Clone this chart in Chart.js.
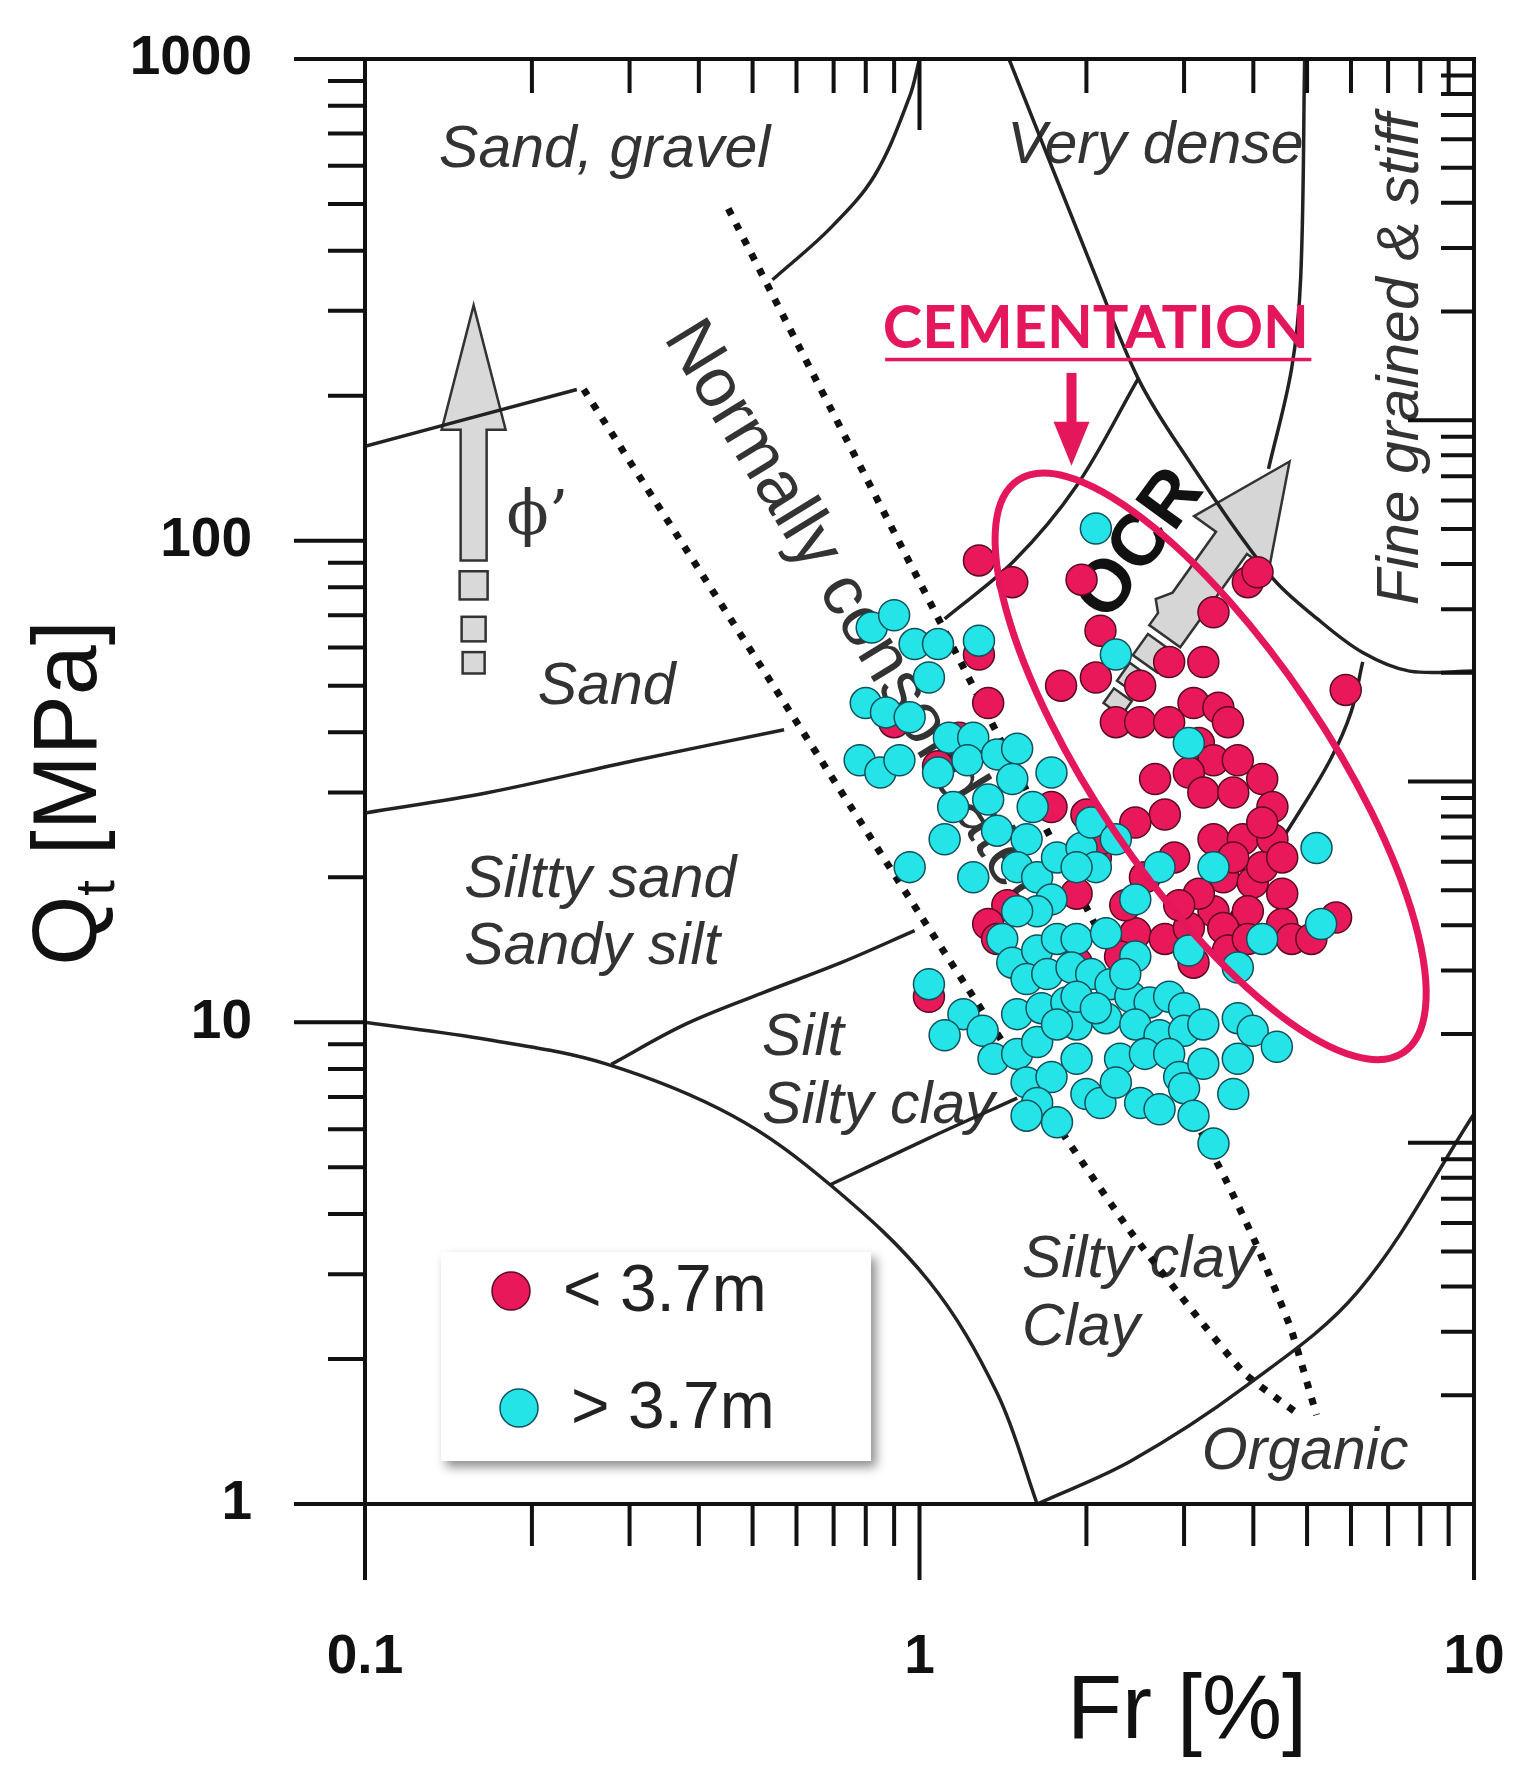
<!DOCTYPE html>
<html><head><meta charset="utf-8">
<script src="https://cdn.jsdelivr.net/npm/chart.js@4.4.1/dist/chart.umd.min.js"></script>
<style>html,body{margin:0;padding:0;background:#fff}#wrap{width:1535px;height:1776px;position:relative}</style>
</head><body><div id="wrap"><canvas id="c" width="1535" height="1776"></canvas></div>
<script>
// ---------- data ----------
const xTickValues = [0.1, 1, 10];
const xTickLabels = ['0.1', '1', '10'];
const yTickValues = [1, 10, 100, 1000];
const yTickLabels = ['1', '10', '100', '1000'];

const redFr = [1.28,1.47,1.96,2.12,1.80,2.08,2.50,2.82,3.25,3.39,3.91,4.07,5.87,1.33,1.18,2.26,2.50,2.82,3.12,3.46,3.60,3.19,3.39,3.75,3.06,3.25,3.68,4.15,4.33,2.66,2.77,2.45,3.39,3.83,4.33,3.53,3.99,4.51,3.39,3.91,4.51,4.69,5.64,2.08,2.12,1.92,1.44,1.33,1.38,2.45,2.77,3.06,3.53,3.60,3.91,1.04,0.90,1.08,1.73,2.00,3.19,4.15,5.09,2.55,2.35,1.28,4.15,2.88,3.68,4.51,2.94,1.92,2.30,3.12];
const redQt = [91,82,83,65,50,52,50,56,56,71,82,86,49,46,39,42,42,42,46,45,42,38,35,35,33,30,30,32,28,32,27,26,24,24,24,20,19.5,18.5,17,17,16,14.9,16.5,22,24,18.5,17.5,16,14.9,15.3,14.9,15.7,15.7,14.1,14.9,11.3,42,34,28,27,18.5,21,14.9,20,17.5,58,26,22,22,22,17.5,13.3,13.7,13.3];

const cyanFr = [2.08,2.26,3.06,0.82,0.90,0.98,1.08,1.28,1.04,0.80,0.87,0.96,1.13,1.25,0.78,0.85,0.92,1.08,1.22,1.38,1.50,1.15,1.33,1.47,1.60,1.73,1.38,1.56,0.96,1.11,1.25,1.50,1.63,1.77,1.96,2.04,2.26,2.08,1.73,1.92,1.63,1.50,1.41,1.47,1.63,1.77,1.92,2.17,2.45,2.71,3.39,3.75,4.15,5.30,5.20,3.06,2.45,1.56,1.70,1.88,2.04,2.21,2.40,2.60,2.82,3.00,1.04,1.20,1.11,1.30,1.50,1.66,1.84,1.92,2.17,2.45,2.71,3.00,3.25,3.75,3.99,4.41,3.75,1.36,1.50,1.56,1.73,1.92,2.00,2.30,2.55,2.82,2.94,3.25,1.63,1.56,1.77,2.12,2.50,2.71,3.00,3.68,3.12,3.39,1.92,2.08,2.35,1.63,1.77,2.26];
const cyanQt = [106,58,38,66,70,61,61,62,52,46,44,43,39,39,35,33,35,33,35,36,37,28,29,32,28,33,25,24,21,24,20,21,20,22,23,26,24,21,18,21,17,17,14.9,13.3,14.1,14.9,14.9,15.3,18,21,21,13,14.9,16,23,14.1,13.7,12.3,12.6,13,12.6,12,11.3,11,11.3,10.7,12,10.4,9.4,9.6,10.4,10.7,11,9.9,10.2,9.9,9.4,9.6,9.9,10.2,9.6,8.9,8.4,8.4,8.6,7.5,7.7,8.4,7.1,8.4,8.6,8.6,7.7,8.2,6.8,6.4,6.2,6.8,6.8,6.6,7.3,7.1,6.4,5.6,11.3,10.7,12.6,9.1,9.9,7.5];

// boundary curves [Fr, Qt]
const curveSandGravel = [[0.1,157],[0.241,206]];
const curveDenseLeft = [[0.543,348],[0.69,445],[0.83,573],[0.96,836],[1.0,1000]];
const curveSandTop = [[0.1,27.2],[0.167,30],[0.308,35],[0.57,40.5]];
const curveSiltTop = [[0.278,8.18],[0.377,9.89],[0.52,11.5],[0.722,13.3],[0.98,15.5]];
const curveClayArc = [[0.1,10],[0.167,9.2],[0.272,8.2],[0.46,6.4],[0.69,4.6],[1.04,2.9],[1.38,1.7],[1.63,1]];
const curveSiltLow = [[0.69,4.6],[1.04,5.75],[1.5,6.96]];
const curveOrganic = [[1.63,1],[2.41,1.23],[3.86,1.75],[6.19,2.77],[10,6.45]];
const curveVeryDense = [[1.45,1000],[2.08,353],[2.48,217],[2.94,157],[4.3,84.5],[5.22,68.8],[6.31,58.5],[7.65,53.6],[10,53.6]];
const curveCement = [[1.11,68.8],[1.48,90.7],[1.92,130],[2.48,217]];
const curveFineTop = [[4.95,1000],[4.87,353],[4.69,228],[4.26,141]];
const curveFineLow = [[6.3,56],[6.0,44],[5.5,35],[4.75,26.4],[3.97,19.2],[3.4,15]];
const dottedLow = [[0.248,206],[1.0,16.8],[1.75,6.24],[2.43,3.61],[3.83,1.88],[4.85,1.53]];
const dottedHigh = [[0.452,489],[3.56,4.73],[4.04,3.48],[4.67,2.32],[5.20,1.53]];

const seriesNames = ['< 3.7m', '> 3.7m'];

// ---------- styling ----------
const RED = '#e8185a', CYAN = '#24e4e8', MAG = '#e5175c';
const FONT = "'Liberation Sans', Arial, sans-serif";
const toPts = a => a.map(p => ({x:p[0], y:p[1]}));
const zip = (xs, ys) => xs.map((x,i) => ({x, y: ys[i]}));

function curveDs(arr, dotted){
  return {type:'scatter', data: toPts(arr), showLine:true, pointRadius:0, pointHoverRadius:0,
    borderColor: dotted ? '#111' : '#222', borderWidth: dotted ? 7 : 3.5,
    borderDash: dotted ? [7,10] : [], tension: dotted ? 0.15 : 0.35, fill:false, order:10};
}

const region = [
  {t:'Sand, gravel', x:0.136, y:598},
  {t:'Very dense', x:1.44, y:608},
  {t:'Sand', x:0.205, y:45.8},
  {t:'Siltty sand', x:0.151, y:18.2},
  {t:'Sandy silt', x:0.151, y:13.2},
  {t:'Silt', x:0.52, y:8.55},
  {t:'Silty clay', x:0.52, y:6.18},
  {t:'Silty clay', x:1.53, y:2.96},
  {t:'Clay', x:1.53, y:2.14},
  {t:'Organic', x:3.23, y:1.18},
];

const overlay = {
  id:'overlay',
  beforeDatasetsDraw(chart){
    const {ctx, scales:{x, y}} = chart;
    const P = (a,b) => [x.getPixelForValue(a), y.getPixelForValue(b)];
    ctx.save();
    ctx.fillStyle = '#333';
    ctx.textBaseline = 'alphabetic';
    ctx.font = `italic 59px ${FONT}`;
    region.forEach(r => { const [px,py] = P(r.x, r.y); ctx.fillText(r.t, px, py); });
    let [fx, fy] = P(6.77, 238);
    ctx.save(); ctx.translate(fx+22, fy); ctx.rotate(-Math.PI/2);
    ctx.textAlign='center'; ctx.textBaseline='middle'; ctx.fillText('Fine grained & stiff', 0, 0); ctx.restore();
    let [nx, ny] = P(0.369, 277);
    ctx.save(); ctx.translate(nx, ny); ctx.rotate(58.5*Math.PI/180);
    ctx.font = `70px ${FONT}`; ctx.textBaseline='middle'; ctx.fillText('Normally consolidated', 0, 0); ctx.restore();
    // phi arrow
    const [ax, atip] = P(0.157, 308);
    const [, abase] = P(0.157, 170);
    const [, abot] = P(0.157, 91);
    ctx.fillStyle = '#d9d9d9'; ctx.strokeStyle = '#333'; ctx.lineWidth = 2.5;
    ctx.beginPath();
    ctx.moveTo(ax, atip); ctx.lineTo(ax+32, abase); ctx.lineTo(ax+13, abase); ctx.lineTo(ax+13, abot);
    ctx.lineTo(ax-13, abot); ctx.lineTo(ax-13, abase); ctx.lineTo(ax-32, abase); ctx.closePath();
    ctx.fill(); ctx.stroke();
    [[86.4,75.5,28],[69.5,61.8,24],[58.7,53,22]].forEach(([t,b,w]) => {
      const yt = y.getPixelForValue(t), yb = y.getPixelForValue(b);
      ctx.fillRect(ax-w/2, yt, w, yb-yt); ctx.strokeRect(ax-w/2, yt, w, yb-yt);
    });
    ctx.fillStyle = '#333';
    ctx.font = `62px 'DejaVu Serif', serif`;
    let [phx, phy] = P(0.18, 103);
    ctx.fillText('\u03d5\u2019', phx, phy);
    // OCR arrow
    const [tx0, ty0] = P(1.96, 36.3), [tx1, ty1] = P(4.65, 146);
    const L = Math.hypot(tx1-tx0, ty1-ty0), ang = Math.atan2(ty1-ty0, tx1-tx0);
    ctx.save(); ctx.translate(tx0, ty0); ctx.rotate(ang);
    ctx.fillStyle = '#d6d6d6'; ctx.strokeStyle='#333'; ctx.lineWidth=2.5;
    const hl = 100, sw = 19, hw = 46, s0 = L*0.40;
    ctx.beginPath();
    ctx.moveTo(L,0); ctx.lineTo(L-hl, -hw); ctx.lineTo(L-hl, -sw); ctx.lineTo(s0+40, -sw);
    ctx.lineTo(s0+25, -sw-10); ctx.lineTo(s0+15, -sw); ctx.lineTo(s0, -sw); ctx.lineTo(s0, sw);
    ctx.lineTo(L-hl, sw); ctx.lineTo(L-hl, hw); ctx.closePath(); ctx.fill(); ctx.stroke();
    [[s0-34,26,15],[s0-64,22,13],[s0-90,18,11]].forEach(([p,w,h]) => {
      ctx.fillRect(p, -h, w, 2*h); ctx.strokeRect(p, -h, w, 2*h);
    });
    ctx.restore();
    let [ox, oy] = P(2.5, 98);
    ctx.save(); ctx.translate(ox, oy); ctx.rotate(-54*Math.PI/180);
    ctx.fillStyle='#111'; ctx.font = `bold 74px ${FONT}`; ctx.textAlign='center'; ctx.textBaseline='middle';
    ctx.fillText('OCR', 0, 0); ctx.restore();
    ctx.restore();
  },
  afterDatasetsDraw(chart){
    const {ctx, chartArea:ca, scales:{x, y}} = chart;
    const P = (a,b) => [x.getPixelForValue(a), y.getPixelForValue(b)];
    ctx.save();
    const [ex, ey] = P(3.35, 34);
    ctx.strokeStyle = MAG; ctx.lineWidth = 7;
    ctx.beginPath(); ctx.ellipse(ex, ey, 345, 116, 56*Math.PI/180, 0, 2*Math.PI); ctx.stroke();
    const [cx, cy] = P(2.08, 251);
    ctx.fillStyle = MAG; ctx.font = `bold 60px Lato, ${FONT}`;
    const w = ctx.measureText('CEMENTATION').width, target = 426;
    ctx.save(); ctx.translate(cx, cy); ctx.scale(target/w, 1); ctx.textAlign='center'; ctx.fillText('CEMENTATION', 0, 0); ctx.restore();
    const [ul0, uly] = P(0.867, 238), [ul1] = P(5.09, 238);
    ctx.fillRect(ul0, uly-1.5, ul1-ul0, 3.5);
    const [arx, ar0] = P(1.88, 223), [, ar1] = P(1.88, 143);
    ctx.fillRect(arx-5, ar0, 10, ar1-ar0-40);
    ctx.beginPath(); ctx.moveTo(arx-18, ar1-44); ctx.lineTo(arx+18, ar1-44); ctx.lineTo(arx, ar1); ctx.closePath(); ctx.fill();
    ctx.save();
    ctx.shadowColor='rgba(0,0,0,0.45)'; ctx.shadowBlur=10; ctx.shadowOffsetX=5; ctx.shadowOffsetY=6;
    ctx.fillStyle='#fff'; ctx.fillRect(441, 1252, 430, 209); ctx.restore();
    const leg = [[RED,'#5a0a22',511,1291,seriesNames[0],563],[CYAN,'#12505a',519,1408,seriesNames[1],571]];
    leg.forEach(([f,s,lx,ly,t,tx]) => {
      ctx.beginPath(); ctx.arc(lx, ly, 19, 0, 2*Math.PI); ctx.fillStyle=f; ctx.fill();
      ctx.lineWidth=1.5; ctx.strokeStyle=s; ctx.stroke();
      ctx.fillStyle='#222'; ctx.font=`66px ${FONT}`; ctx.textBaseline='middle'; ctx.fillText(t, tx, ly+2);
    });
    ctx.strokeStyle='#111'; ctx.fillStyle='#111'; ctx.lineWidth=4;
    const L0 = ca.left, R0 = ca.right, T0 = ca.top, B0 = ca.bottom;
    ctx.beginPath();
    ctx.moveTo(294, T0); ctx.lineTo(R0, T0); ctx.lineTo(R0, B0);
    ctx.moveTo(294, B0); ctx.lineTo(R0, B0);
    ctx.moveTo(L0, T0); ctx.lineTo(L0, B0+76);
    ctx.stroke();
    ctx.beginPath();
    for (let d = 1; d < 1000; d *= 10) for (let k = 1; k <= 10; k++) {
      const v = d*k; if (v > 1000) break;
      const py = y.getPixelForValue(v), major = (k===1||k===10);
      ctx.moveTo(major ? 294 : L0-37, py); ctx.lineTo(L0, py);
    }
    for (let d = 0.1; d < 9; d *= 10) for (let k = 1; k <= 10; k++) {
      const v = d*k; if (v > 10.001) break;
      const px = x.getPixelForValue(v), major = (k===1||k===10);
      ctx.moveTo(px, B0); ctx.lineTo(px, B0 + (major ? 76 : 42));
      ctx.moveTo(px, T0); ctx.lineTo(px, T0 + (major ? 71 : 34));
    }
    const decH = (B0 - T0)/4;
    for (let d = 0; d < 4; d++) for (let k = 1; k <= 10; k++) {
      const py = B0 - d*decH - Math.log10(k)*decH, major = (k===1||k===10);
      ctx.moveTo(R0, py); ctx.lineTo(R0 - (major ? 66 : 33), py);
    }
    ctx.stroke();
    ctx.font = `bold 55px ${FONT}`; ctx.fillStyle='#111';
    ctx.textAlign='right'; ctx.textBaseline='middle';
    yTickValues.forEach((v,i) => ctx.fillText(yTickLabels[i], 252, y.getPixelForValue(v)));
    ctx.textAlign='center'; ctx.textBaseline='alphabetic';
    xTickValues.forEach((v,i) => ctx.fillText(xTickLabels[i], x.getPixelForValue(v), 1673));
    ctx.font = `90px ${FONT}`; ctx.fillStyle='#111';
    ctx.fillText('Fr [%]', 1187, 1738);
    ctx.save(); ctx.translate(96, 793); ctx.rotate(-Math.PI/2); ctx.textAlign='left';
    const wQ = ctx.measureText('Q').width; ctx.font = `56px ${FONT}`; const wt = ctx.measureText('t').width;
    ctx.font = `90px ${FONT}`; const wR = ctx.measureText(' [MPa]').width;
    const tot = wQ + wt + wR; let sx = -tot/2;
    ctx.fillText('Q', sx, 0); sx += wQ;
    ctx.font = `56px ${FONT}`; ctx.fillText('t', sx, 18); sx += wt;
    ctx.font = `90px ${FONT}`; ctx.fillText(' [MPa]', sx, 0);
    ctx.restore();
    ctx.restore();
  }
};

const datasets = [
  {label: seriesNames[1], data: zip(cyanFr, cyanQt), backgroundColor: CYAN, borderColor:'#12505a', borderWidth:1.5, pointRadius:15.5, order:0},
  {label: seriesNames[0], data: zip(redFr, redQt), backgroundColor: RED, borderColor:'#5a0a22', borderWidth:1.5, pointRadius:15.5, order:1},
  curveDs(curveSandGravel), curveDs(curveDenseLeft), curveDs(curveSandTop), curveDs(curveSiltTop),
  curveDs(curveClayArc), curveDs(curveSiltLow), curveDs(curveOrganic), curveDs(curveVeryDense),
  curveDs(curveCement), curveDs(curveFineTop), curveDs(curveFineLow),
  curveDs(dottedLow, true), curveDs(dottedHigh, true)
];

new Chart(document.getElementById('c'), {
  type: 'scatter',
  data: { datasets },
  options: {
    responsive:false, animation:false, devicePixelRatio:1,
    layout:{ padding:{ top:59, right:61, left:0, bottom:0 } },
    plugins:{ legend:{display:false}, tooltip:{enabled:false} },
    scales:{
      x:{ type:'logarithmic', min:0.1, max:10, grid:{display:false}, border:{display:false}, ticks:{display:false},
          afterFit(s){ s.height = 272; } },
      y:{ type:'logarithmic', min:1, max:1000, grid:{display:false}, border:{display:false}, ticks:{display:false},
          afterFit(s){ s.width = 365; } }
    }
  },
  plugins:[overlay]
});
</script></body></html>
